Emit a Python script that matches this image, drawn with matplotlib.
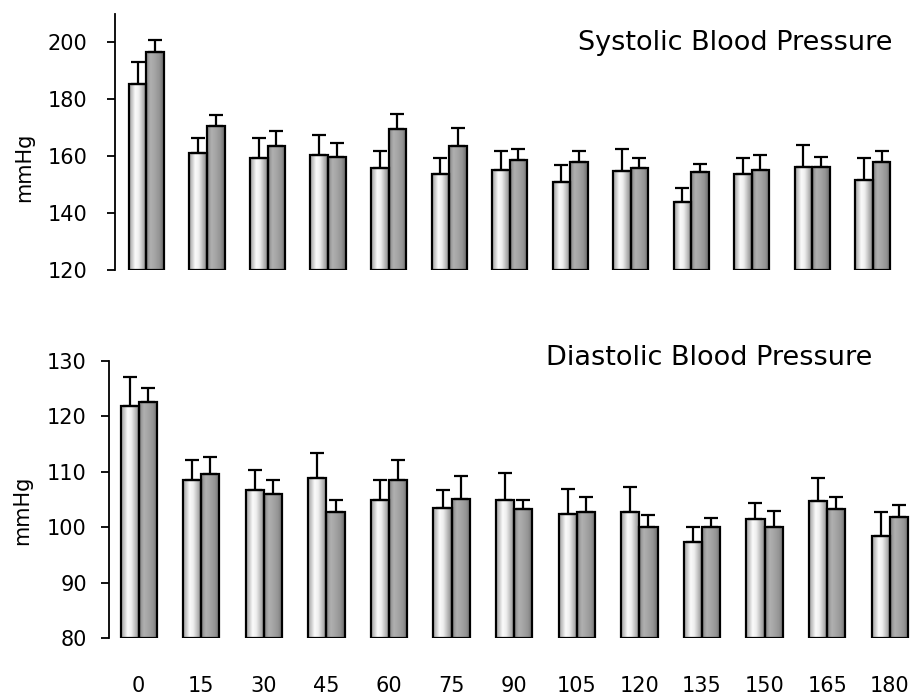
import numpy as np
import matplotlib
matplotlib.use("Agg")
import matplotlib.pyplot as plt
from matplotlib.colors import LinearSegmentedColormap

# Minutes after dosing
minutes = ["0", "15", "30", "45", "60", "75", "90", "105", "120", "135", "150", "165", "180"]

# Systolic blood pressure (mmHg): light bar / dark bar, and top of the error bar
sys_light = [185.4, 161.0, 159.4, 160.4, 155.9, 153.8, 155.3, 151.0, 154.7, 143.9, 153.8, 156.1, 151.6]
sys_light_top = [193.0, 166.3, 166.3, 167.5, 161.8, 159.5, 161.8, 156.8, 162.5, 148.9, 159.5, 163.8, 159.5]
sys_dark = [196.5, 170.6, 163.7, 159.8, 169.6, 163.7, 158.7, 158.0, 156.0, 154.3, 155.3, 156.1, 158.0]
sys_dark_top = [200.9, 174.6, 168.9, 164.8, 175.0, 169.9, 162.5, 161.8, 159.5, 157.4, 160.4, 159.8, 161.8]

# Diastolic blood pressure (mmHg)
dia_light = [121.9, 108.5, 106.6, 108.9, 104.8, 103.4, 104.8, 102.4, 102.7, 97.3, 101.5, 104.7, 98.4]
dia_light_top = [127.1, 112.1, 110.3, 113.4, 108.5, 106.6, 109.8, 106.9, 107.2, 100.0, 104.3, 108.8, 102.7]
dia_dark = [122.6, 109.6, 106.0, 102.7, 108.5, 105.1, 103.3, 102.7, 100.1, 100.1, 100.1, 103.3, 101.8]
dia_dark_top = [125.1, 112.6, 108.4, 104.8, 112.1, 109.2, 104.8, 105.5, 102.2, 101.6, 102.9, 105.5, 104.0]

plt.rcParams['font.family'] = ['DejaVu Sans']

# Cylinder-like shading for the bars
cmap_light = LinearSegmentedColormap.from_list(
    "light", [(0.0, "#a0a0a0"), (0.18, "#cccccc"), (0.35, "#fbfbfb"),
              (0.55, "#eeeeee"), (0.75, "#c0c0c0"), (1.0, "#888888")])
cmap_dark = LinearSegmentedColormap.from_list(
    "dark", [(0.0, "#848484"), (0.25, "#b0b0b0"), (0.5, "#a4a4a4"),
             (0.75, "#949494"), (1.0, "#6c6c6c")])
grad = np.linspace(0, 1, 64).reshape(1, -1)

W = 0.29


def shaded_bars(ax, xs, heights, base, cmap):
    bars = ax.bar(xs, np.array(heights) - base, bottom=base, width=W,
                  facecolor="none", edgecolor="black", linewidth=1.6, zorder=3)
    for b in bars:
        x0, y0 = b.get_x(), b.get_y()
        im = ax.imshow(grad, cmap=cmap, aspect="auto", interpolation="bilinear",
                       extent=(x0, x0 + b.get_width(), y0, y0 + b.get_height()),
                       zorder=2)
        im.set_clip_path(b)
    return bars


def panel(ax, light, light_top, dark, dark_top, ylim, yticks, pad):
    x = np.arange(len(minutes))
    base = ylim[0]
    shaded_bars(ax, x - W / 2, light, base, cmap_light)
    shaded_bars(ax, x + W / 2, dark, base, cmap_dark)
    ax.errorbar(x - W / 2, light, yerr=[np.zeros(len(x)), np.array(light_top) - np.array(light)],
                fmt="none", ecolor="black", elinewidth=1.6, capsize=5, capthick=1.6, zorder=4)
    ax.errorbar(x + W / 2, dark, yerr=[np.zeros(len(x)), np.array(dark_top) - np.array(dark)],
                fmt="none", ecolor="black", elinewidth=1.6, capsize=5, capthick=1.6, zorder=4)
    ax.set_ylim(*ylim)
    ax.set_yticks(yticks)
    for s in ["top", "right", "bottom"]:
        ax.spines[s].set_visible(False)
    ax.spines["left"].set_linewidth(1.3)
    ax.tick_params(axis="y", length=6, width=1.3, labelsize=15, pad=pad)


fig = plt.figure(figsize=(9.24, 6.98), dpi=100)

ax1 = fig.add_axes([115 / 924, (698 - 270) / 698, 788 / 924, 256 / 698])
panel(ax1, sys_light, sys_light_top, sys_dark, sys_dark_top, (120, 210), [120, 140, 160, 180, 200], 14)
ax1.set_xlim(-0.52, 12.5)
ax1.set_xticks([])

ax2 = fig.add_axes([109 / 924, 60 / 698, 812 / 924, 277.3 / 698])
panel(ax2, dia_light, dia_light_top, dia_dark, dia_dark_top, (80, 130), [80, 90, 100, 110, 120, 130], 10)
ax2.set_xlim(-0.475, 12.5)
ax2.set_xticks(np.arange(len(minutes)))
ax2.set_xticklabels(minutes)
ax2.tick_params(axis="x", length=0, labelsize=15, pad=27)

fig.text(893 / 924, 1 - 43 / 698, "Systolic Blood Pressure", ha="right", va="center", fontsize=19.5)
fig.text(872 / 924, 1 - 358 / 698, "Diastolic Blood Pressure", ha="right", va="center", fontsize=19.5)
fig.text(24 / 924, 1 - 167 / 698, "mmHg", rotation=90, ha="center", va="center", fontsize=15)
fig.text(22 / 924, 1 - 510 / 698, "mmHg", rotation=90, ha="center", va="center", fontsize=15)

fig.savefig("out.png", dpi=100)
